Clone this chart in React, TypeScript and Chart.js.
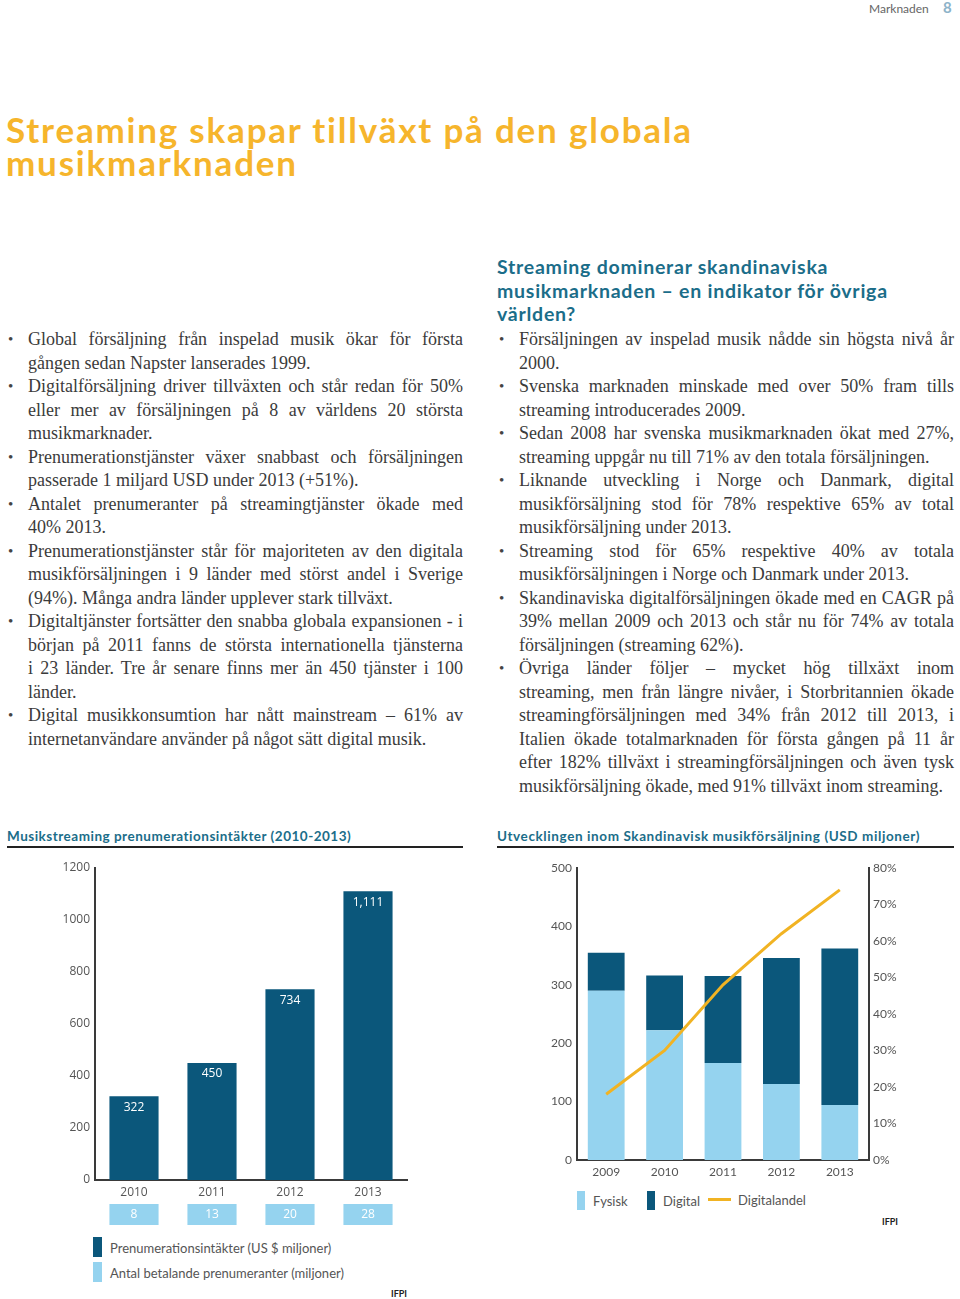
import React, { useEffect, useRef } from "react";
import { Chart, registerables } from "chart.js";

Chart.register(...registerables);

// ---------- chart data ----------
const revenueYears = ["2010", "2011", "2012", "2013"];
const revenueValues = [322, 450, 734, 1111];
const subscriberValues = [8, 13, 20, 28];
const revenueAxisMax = 1200;
const revenueAxisStep = 200;

const salesYears = ["2009", "2010", "2011", "2012", "2013"];
const physicalSales = [290, 222, 166, 130, 94];
const digitalSales = [65, 94, 149, 216, 268];
const digitalShare = [18, 30, 48, 62, 74];
const salesAxisMax = 500;
const salesAxisStep = 100;
const shareAxisMax = 80;
const shareAxisStep = 10;

// ---------- page text ----------
const headlineLines = ["Streaming skapar tillväxt på den globala", "musikmarknaden"];
const rightHeadingLines = [
  "Streaming dominerar skandinaviska",
  "musikmarknaden – en indikator för övriga",
  "världen?",
];
const leftBullets = [
  ["Global försäljning från inspelad musik ökar för första", "gången sedan Napster lanserades 1999."],
  [
    "Digitalförsäljning driver tillväxten och står redan för 50%",
    "eller mer av försäljningen på 8 av världens 20 största",
    "musikmarknader.",
  ],
  ["Prenumerationstjänster växer snabbast och försäljningen", "passerade 1 miljard USD under 2013 (+51%)."],
  ["Antalet prenumeranter på streamingtjänster ökade med", "40% 2013."],
  [
    "Prenumerationstjänster står för majoriteten av den digitala",
    "musikförsäljningen i 9 länder med störst andel i Sverige",
    "(94%). Många andra länder upplever stark tillväxt.",
  ],
  [
    "Digitaltjänster fortsätter den snabba globala expansionen - i",
    "början på 2011 fanns de största internationella tjänsterna",
    "i 23 länder. Tre år senare finns mer än 450 tjänster i 100",
    "länder.",
  ],
  ["Digital musikkonsumtion har nått mainstream – 61% av", "internetanvändare använder på något sätt digital musik."],
];
const rightBullets = [
  ["Försäljningen av inspelad musik nådde sin högsta nivå år", "2000."],
  ["Svenska marknaden minskade med over 50% fram tills", "streaming introducerades 2009."],
  ["Sedan 2008 har svenska musikmarknaden ökat med 27%,", "streaming uppgår nu till 71% av den totala försäljningen."],
  [
    "Liknande utveckling i Norge och Danmark, digital",
    "musikförsäljning stod för 78% respektive 65% av total",
    "musikförsäljning under 2013.",
  ],
  ["Streaming stod för 65% respektive 40% av totala", "musikförsäljningen i Norge och Danmark under 2013."],
  [
    "Skandinaviska digitalförsäljningen ökade med en CAGR på",
    "39% mellan 2009 och 2013 och står nu för 74% av totala",
    "försäljningen (streaming 62%).",
  ],
  [
    "Övriga länder följer – mycket hög tillxäxt inom",
    "streaming, men från längre nivåer, i Storbritannien ökade",
    "streamingförsäljningen med 34% från 2012 till 2013, i",
    "Italien ökade totalmarknaden för första gången på 11 år",
    "efter 182% tillväxt i streamingförsäljningen och även tysk",
    "musikförsäljning ökade, med 91% tillväxt inom streaming.",
  ],
];

// ---------- styles ----------
const DARK = "#0b577b";
const LIGHT = "#95d3ef";
const GOLD = "#f1b323";
const TEAL = "#1b6d89";
const AXIS = "#3a3a3a";
const TICK = "#555555";
const SANS = "Lato, 'Open Sans', sans-serif";
const SERIF = "'Liberation Serif', 'DejaVu Serif', serif";
const LINE_H = 23.5;

function RevenueChart() {
  const ref = useRef<HTMLCanvasElement>(null);
  useEffect(() => {
    const extras = {
      id: "revenueExtras",
      afterDatasetsDraw(chart: any) {
        const { ctx, chartArea } = chart;
        const meta = chart.getDatasetMeta(0);
        ctx.save();
        ctx.textAlign = "center";
        ctx.textBaseline = "middle";
        ctx.font = "12px 'Open Sans'";
        meta.data.forEach((bar: any, i: number) => {
          ctx.fillStyle = "#ffffff";
          ctx.fillText(revenueValues[i].toLocaleString("en-US"), bar.x, bar.y + 11);
          const w = bar.width;
          ctx.fillStyle = LIGHT;
          ctx.fillRect(bar.x - w / 2, chartArea.bottom + 24, w, 21);
          ctx.fillStyle = "#ffffff";
          ctx.fillText(String(subscriberValues[i]), bar.x, chartArea.bottom + 34.5);
        });
        ctx.restore();
      },
    };
    const chart = new Chart(ref.current!, {
      type: "bar",
      data: {
        labels: revenueYears,
        datasets: [
          {
            label: "Prenumerationsintäkter (US $ miljoner)",
            data: revenueValues,
            backgroundColor: DARK,
            barPercentage: 0.63,
            categoryPercentage: 1,
          },
        ],
      },
      options: {
        animation: false,
        responsive: false,
        maintainAspectRatio: false,
        layout: { padding: { left: 0, right: 63, top: 13, bottom: 0 } },
        plugins: { legend: { display: false }, tooltip: { enabled: false } },
        scales: {
          x: {
            grid: { display: false, drawTicks: false },
            border: { display: true, color: AXIS, width: 2 },
            ticks: { color: TICK, font: { family: "'Open Sans'", size: 12 }, padding: 5 },
            afterFit: (s: any) => {
              s.height = 55;
            },
          },
          y: {
            min: 0,
            max: revenueAxisMax,
            grid: { display: false, drawTicks: false },
            border: { display: true, color: AXIS, width: 2 },
            ticks: {
              stepSize: revenueAxisStep,
              color: TICK,
              font: { family: "'Open Sans'", size: 12 },
              padding: 5,
              callback: (v: any) => String(v),
            },
            afterFit: (s: any) => {
              s.width = 95;
            },
          },
        },
      },
      plugins: [extras],
    });
    return () => chart.destroy();
  }, []);
  return (
    <canvas
      ref={ref}
      width={470}
      height={380}
      style={{ position: "absolute", left: 0, top: 855, width: 470, height: 380 }}
    />
  );
}

function SalesChart() {
  const ref = useRef<HTMLCanvasElement>(null);
  useEffect(() => {
    const chart = new Chart(ref.current!, {
      type: "bar",
      data: {
        labels: salesYears,
        datasets: [
          {
            type: "bar",
            label: "Fysisk",
            data: physicalSales,
            backgroundColor: LIGHT,
            barPercentage: 0.63,
            categoryPercentage: 1,
            stack: "sales",
            order: 2,
          },
          {
            type: "bar",
            label: "Digital",
            data: digitalSales,
            backgroundColor: DARK,
            barPercentage: 0.63,
            categoryPercentage: 1,
            stack: "sales",
            order: 2,
          },
          {
            type: "line",
            label: "Digitalandel",
            data: digitalShare,
            borderColor: GOLD,
            backgroundColor: GOLD,
            borderWidth: 3,
            pointRadius: 0,
            tension: 0,
            yAxisID: "y1",
            order: 1,
          } as any,
        ],
      },
      options: {
        animation: false,
        responsive: false,
        maintainAspectRatio: false,
        layout: { padding: { left: 0, right: 0, top: 13, bottom: 0 } },
        plugins: { legend: { display: false }, tooltip: { enabled: false } },
        scales: {
          x: {
            stacked: true,
            grid: { display: false, drawTicks: false },
            border: { display: true, color: AXIS, width: 2 },
            ticks: { color: TICK, font: { family: "Lato", size: 12 }, padding: 5 },
            afterFit: (s: any) => {
              s.height = 25;
            },
          },
          y: {
            stacked: true,
            min: 0,
            max: salesAxisMax,
            grid: { display: false, drawTicks: false },
            border: { display: true, color: AXIS, width: 2 },
            ticks: { stepSize: salesAxisStep, color: TICK, font: { family: "Lato", size: 12 }, padding: 5 },
            afterFit: (s: any) => {
              s.width = 87;
            },
          },
          y1: {
            position: "right",
            min: 0,
            max: shareAxisMax,
            grid: { display: false, drawTicks: false },
            border: { display: true, color: AXIS, width: 2 },
            ticks: {
              stepSize: shareAxisStep,
              color: TICK,
              font: { family: "Lato", size: 12 },
              padding: 4,
              callback: (v: any) => v + "%",
            },
            afterFit: (s: any) => {
              s.width = 91;
            },
          },
        },
      },
    });
    return () => chart.destroy();
  }, []);
  return (
    <canvas
      ref={ref}
      width={470}
      height={330}
      style={{ position: "absolute", left: 490, top: 855, width: 470, height: 330 }}
    />
  );
}

function BulletColumn({ bullets, left, top }: { bullets: string[][]; left: number; top: number }) {
  const rows: React.ReactNode[] = [];
  let k = 0;
  bullets.forEach((lines) => {
    lines.forEach((line, li) => {
      const last = li === lines.length - 1;
      rows.push(
        <div
          key={k++}
          style={{
            position: "relative",
            height: LINE_H,
            lineHeight: LINE_H + "px",
            textAlign: last ? "left" : "justify",
            textAlignLast: last ? "left" : "justify",
            whiteSpace: "nowrap",
          }}
        >
          {li === 0 && (
            <span style={{ position: "absolute", left: -20, top: 0, fontSize: 15, color: "#444" }}>•</span>
          )}
          {line}
        </div>
      );
    });
  });
  return (
    <div
      style={{
        position: "absolute",
        left,
        top,
        width: 435,
        fontFamily: SERIF,
        fontSize: 18,
        color: "#3b3b3b",
      }}
    >
      {rows}
    </div>
  );
}

function ChartTitle({ text, left, width, spacing }: { text: string; left: number; width: number; spacing: number }) {
  return (
    <>
      <div
        style={{
          position: "absolute",
          left,
          top: 827,
          height: 18,
          lineHeight: "18px",
          fontFamily: SANS,
          fontWeight: 700,
          fontSize: 13.5,
          letterSpacing: spacing,
          color: TEAL,
          whiteSpace: "nowrap",
        }}
      >
        {text}
      </div>
      <div style={{ position: "absolute", left, top: 846, width, height: 2, background: "#222" }} />
    </>
  );
}

function LegendBox({ left, top, color }: { left: number; top: number; color: string }) {
  return <div style={{ position: "absolute", left, top, width: 9, height: 20, background: color }} />;
}

function LegendText({ left, top, text }: { left: number; top: number; text: string }) {
  return (
    <div
      style={{
        position: "absolute",
        left,
        top: top - 9,
        height: 18,
        lineHeight: "18px",
        fontFamily: SANS,
        fontSize: 13,
        color: "#555",
        whiteSpace: "nowrap",
      }}
    >
      {text}
    </div>
  );
}

export default function App() {
  return (
    <div
      style={{
        position: "absolute",
        left: 0,
        top: 0,
        width: 960,
        height: 1299,
        background: "#ffffff",
        overflow: "hidden",
      }}
    >
      {/* header */}
      <div
        style={{
          position: "absolute",
          left: 869,
          top: 0,
          height: 17,
          lineHeight: "17px",
          fontFamily: SANS,
          fontSize: 12,
          color: "#666",
        }}
      >
        Marknaden
      </div>
      <div
        style={{
          position: "absolute",
          left: 943,
          top: -2,
          height: 18,
          lineHeight: "18px",
          fontFamily: SANS,
          fontWeight: 700,
          fontSize: 15,
          color: "#8db3c9",
        }}
      >
        8
      </div>

      {/* headline */}
      <div
        style={{
          position: "absolute",
          left: 6,
          top: 113,
          fontFamily: SANS,
          fontWeight: 700,
          fontSize: 35,
          letterSpacing: 1.8,
          lineHeight: "33px",
          color: "#f6b52c",
          whiteSpace: "nowrap",
        }}
      >
        {headlineLines.map((l, i) => (
          <div key={i}>{l}</div>
        ))}
      </div>

      {/* right heading */}
      <div
        style={{
          position: "absolute",
          left: 497,
          top: 255,
          fontFamily: SANS,
          fontWeight: 700,
          fontSize: 19.5,
          letterSpacing: 0.75,
          lineHeight: LINE_H + "px",
          color: TEAL,
          whiteSpace: "nowrap",
        }}
      >
        {rightHeadingLines.map((l, i) => (
          <div key={i}>{l}</div>
        ))}
      </div>

      <BulletColumn bullets={leftBullets} left={28} top={328} />
      <BulletColumn bullets={rightBullets} left={519} top={328} />

      {/* left chart */}
      <ChartTitle text="Musikstreaming prenumerationsintäkter (2010-2013)" left={7} width={456} spacing={0.5} />
      <RevenueChart />
      <LegendBox left={93} top={1237} color={DARK} />
      <LegendText left={110} top={1248} text="Prenumerationsintäkter (US $ miljoner)" />
      <LegendBox left={93} top={1262} color={LIGHT} />
      <LegendText left={110} top={1273} text="Antal betalande prenumeranter (miljoner)" />
      <div
        style={{
          position: "absolute",
          left: 391,
          top: 1288,
          fontFamily: SANS,
          fontWeight: 700,
          fontSize: 9,
          lineHeight: "12px",
          color: "#222",
        }}
      >
        IFPI
      </div>

      {/* right chart */}
      <ChartTitle
        text="Utvecklingen inom Skandinavisk musikförsäljning (USD miljoner)"
        left={497}
        width={457}
        spacing={0.6}
      />
      <SalesChart />
      <div style={{ position: "absolute", left: 577, top: 1191, width: 8, height: 19, background: LIGHT }} />
      <LegendText left={593} top={1201} text="Fysisk" />
      <div style={{ position: "absolute", left: 647, top: 1191, width: 8, height: 19, background: DARK }} />
      <LegendText left={663} top={1201} text="Digital" />
      <div style={{ position: "absolute", left: 708, top: 1198, width: 23, height: 3, background: GOLD }} />
      <LegendText left={738} top={1200} text="Digitalandel" />
      <div
        style={{
          position: "absolute",
          left: 882,
          top: 1216,
          fontFamily: SANS,
          fontWeight: 700,
          fontSize: 9,
          lineHeight: "12px",
          color: "#222",
        }}
      >
        IFPI
      </div>
    </div>
  );
}
